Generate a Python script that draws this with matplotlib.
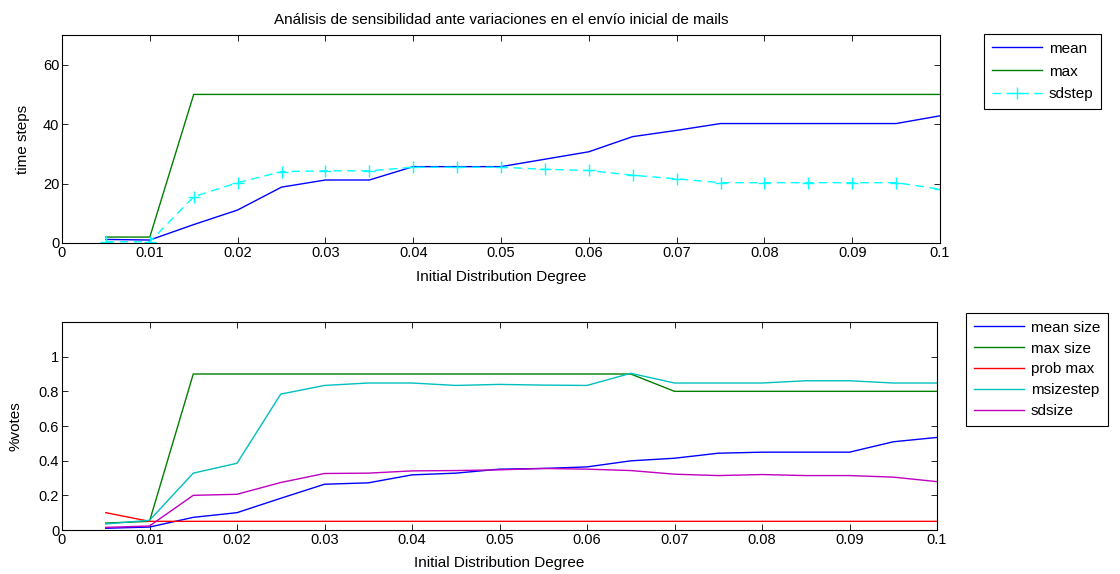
import matplotlib
matplotlib.use("Agg")
import matplotlib.pyplot as plt
import numpy as np

plt.rcParams["font.family"] = ["Liberation Sans", "DejaVu Sans"]
plt.rcParams["font.size"] = 10.5

# eje x comun
degree = [0.005, 0.01, 0.015, 0.02, 0.025, 0.03, 0.035, 0.04, 0.045, 0.05,
          0.055, 0.06, 0.065, 0.07, 0.075, 0.08, 0.085, 0.09, 0.095, 0.1]

# panel superior
mean_steps = [1.2, 1.0, 6.2, 11.1, 18.8, 21.2, 21.2, 25.7, 25.7, 25.7,
              28.2, 30.7, 35.8, 37.9, 40.2, 40.2, 40.2, 40.2, 40.2, 42.8]
max_steps = [2, 2, 50, 50, 50, 50, 50, 50, 50, 50,
             50, 50, 50, 50, 50, 50, 50, 50, 50, 50]
sd_steps = [0.4, 0.4, 15.6, 20.3, 24.0, 24.3, 24.3, 25.5, 25.5, 25.5,
            24.8, 24.4, 22.8, 21.6, 20.3, 20.3, 20.3, 20.3, 20.3, 18.1]

# panel inferior
mean_size = [0.010, 0.017, 0.073, 0.100, 0.183, 0.264, 0.272, 0.318, 0.328, 0.351,
             0.355, 0.364, 0.399, 0.414, 0.443, 0.449, 0.449, 0.449, 0.509, 0.534]
max_size = [0.04, 0.05, 0.9, 0.9, 0.9, 0.9, 0.9, 0.9, 0.9, 0.9,
            0.9, 0.9, 0.9, 0.8, 0.8, 0.8, 0.8, 0.8, 0.8, 0.8]
prob_max = [0.1, 0.05, 0.05, 0.05, 0.05, 0.05, 0.05, 0.05, 0.05, 0.05,
            0.05, 0.05, 0.05, 0.05, 0.05, 0.05, 0.05, 0.05, 0.05, 0.05]
msizestep = [0.035, 0.056, 0.328, 0.385, 0.784, 0.834, 0.848, 0.848, 0.834, 0.840,
             0.836, 0.834, 0.904, 0.848, 0.848, 0.848, 0.861, 0.861, 0.848, 0.848]
sdsize = [0.015, 0.023, 0.200, 0.206, 0.274, 0.326, 0.328, 0.341, 0.343, 0.347,
          0.355, 0.351, 0.343, 0.322, 0.314, 0.320, 0.314, 0.314, 0.305, 0.279]

xticks = [0, 0.01, 0.02, 0.03, 0.04, 0.05, 0.06, 0.07, 0.08, 0.09, 0.1]
xticklabels = ["0", "0.01", "0.02", "0.03", "0.04", "0.05", "0.06", "0.07", "0.08", "0.09", "0.1"]

fig = plt.figure(figsize=(11.2, 5.74), dpi=100)
ax1 = fig.add_axes([62 / 1120, 1 - 243 / 574, 878 / 1120, 208 / 574])
ax2 = fig.add_axes([62 / 1120, 1 - 530 / 574, 875 / 1120, 208 / 574])


def style(ax):
    ax.set_xlim(0, 0.1)
    ax.set_xticks(xticks)
    ax.set_xticklabels(xticklabels)
    ax.tick_params(direction="in", top=True, right=True, length=4, width=0.6, pad=2)
    for s in ax.spines.values():
        s.set_linewidth(0.8)
    ax.set_xlabel("Initial Distribution Degree", fontsize=11, labelpad=7)


lw = 1.0
ax1.plot(degree, mean_steps, color=(0, 0, 1), lw=lw, label="mean")
ax1.plot(degree, max_steps, color=(0, 0.5, 0), lw=lw, label="max")
ax1.plot(degree, sd_steps, color=(0, 1, 1), lw=lw, ls=(0, (6, 4)), marker="+",
         markersize=9, markeredgewidth=1, label="sdstep")
style(ax1)
ax1.set_ylim(0, 70)
ax1.set_yticks([0, 20, 40, 60])
ax1.set_ylabel("time steps", fontsize=11, labelpad=9)
ax1.set_title("Análisis de sensibilidad ante variaciones en el envío inicial de mails",
              fontsize=11, pad=8)

ax2.plot(degree, mean_size, color=(0, 0, 1), lw=lw, label="mean size")
ax2.plot(degree, max_size, color=(0, 0.5, 0), lw=lw, label="max size")
ax2.plot(degree, prob_max, color=(1, 0, 0), lw=lw, label="prob max")
ax2.plot(degree, msizestep, color=(0, 0.75, 0.75), lw=lw, label="msizestep")
ax2.plot(degree, sdsize, color=(0.75, 0, 0.75), lw=lw, label="sdsize")
style(ax2)
ax2.set_ylim(0, 1.2)
ax2.set_yticks([0, 0.2, 0.4, 0.6, 0.8, 1])
ax2.set_yticklabels(["0", "0.2", "0.4", "0.6", "0.8", "1"])
ax2.set_ylabel("%votes", fontsize=11, labelpad=12)

for ax, pos, sp in ((ax1, (984 / 1120, 1 - 34 / 574), 0.58),
                    (ax2, (966 / 1120, 1 - 313 / 574), 0.45)):
    leg = ax.legend(loc="upper left", bbox_to_anchor=pos, bbox_transform=fig.transFigure,
                    fancybox=False, framealpha=1, edgecolor="black", fontsize=11,
                    handlelength=3.3, borderpad=0.5, labelspacing=sp, handletextpad=0.45,
                    borderaxespad=0)
    leg.get_frame().set_linewidth(0.8)

fig.savefig("out.png", dpi=100)
